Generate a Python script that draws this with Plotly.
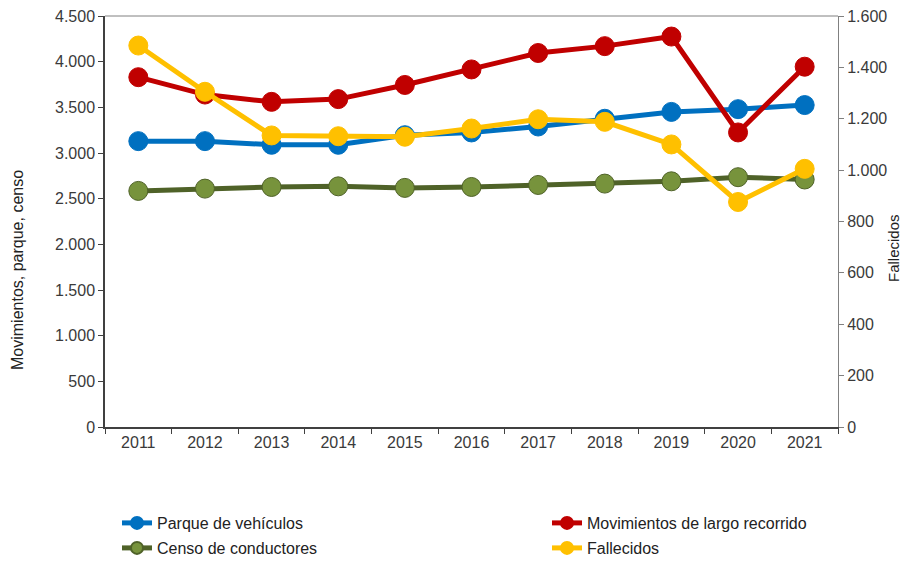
import plotly.graph_objects as go

years = ["2011", "2012", "2013", "2014", "2015", "2016", "2017", "2018", "2019", "2020", "2021"]
parque = [3130, 3130, 3090, 3090, 3195, 3225, 3290, 3375, 3450, 3480, 3525]
movimientos = [3830, 3640, 3560, 3590, 3745, 3915, 4095, 4170, 4275, 3225, 3945]
censo = [2585, 2610, 2628, 2635, 2618, 2628, 2650, 2665, 2690, 2735, 2710]
fallecidos = [1485, 1305, 1135, 1132, 1130, 1162, 1198, 1188, 1100, 876, 1005]

left_ticks = [0, 500, 1000, 1500, 2000, 2500, 3000, 3500, 4000, 4500]
left_labels = ["0", "500", "1.000", "1.500", "2.000", "2.500", "3.000", "3.500", "4.000", "4.500"]
right_ticks = [0, 200, 400, 600, 800, 1000, 1200, 1400, 1600]
right_labels = ["0", "200", "400", "600", "800", "1.000", "1.200", "1.400", "1.600"]

FONT = "Liberation Sans, Arial, sans-serif"
TXT = "#3a3a3a"
W, H = 902, 563
L, R, T, B = 105, 838, 16, 427
PW, PH = R - L, B - T

fig = go.Figure()

def add(name, y, line_c, mark_c, legend, yaxis="y"):
    fig.add_trace(go.Scatter(
        x=years, y=y, name=name, mode="lines+markers", yaxis=yaxis, legend=legend,
        line=dict(color=line_c, width=5),
        marker=dict(color=mark_c, size=19, line=dict(color=line_c, width=1)),
    ))

add("Parque de vehículos", parque, "#0070C0", "#0070C0", "legend")
add("Movimientos de largo recorrido", movimientos, "#C00000", "#C00000", "legend2")
add("Censo de conductores", censo, "#4F6228", "#77933C", "legend3")
add("Fallecidos", fallecidos, "#FFC000", "#FFC000", "legend4", yaxis="y2")

def leg(text_x, y):
    return dict(orientation="h", xanchor="left", yanchor="middle",
                x=(text_x - 40 - L) / PW, y=(B - y) / PH,
                font=dict(family=FONT, size=16, color="#222"),
                bgcolor="rgba(0,0,0,0)", itemsizing="constant")

fig.update_layout(
    width=W, height=H,
    margin=dict(l=L, r=W - R, t=T, b=H - B, autoexpand=False),
    paper_bgcolor="white", plot_bgcolor="white",
    font=dict(family=FONT, size=16, color=TXT),
    showlegend=True,
    legend=leg(157, 523),
    legend2=leg(587, 523),
    legend3=leg(157, 548),
    legend4=leg(587, 548),
    xaxis=dict(
        type="category", range=[-0.5, 10.5], tickson="boundaries",
        ticks="outside", ticklen=5, tickcolor="#404040",
        showline=True, linecolor="#404040", linewidth=1.5, mirror=False,
        showgrid=False, tickfont=dict(family=FONT, size=16, color=TXT),
    ),
    yaxis=dict(
        range=[0, 4500], tickvals=left_ticks, ticktext=left_labels,
        ticks="outside", ticklen=5, tickcolor="#404040",
        showline=True, linecolor="#404040", linewidth=1.5,
        showgrid=False, zeroline=False, tickfont=dict(family=FONT, size=16, color=TXT),
    ),
    yaxis2=dict(
        range=[0, 1600], tickvals=right_ticks, ticktext=right_labels,
        overlaying="y", side="right",
        ticks="outside", ticklen=5, tickcolor="#808080",
        showline=True, linecolor="#808080", linewidth=1,
        showgrid=False, zeroline=False, tickfont=dict(family=FONT, size=16, color=TXT),
    ),
    shapes=[dict(type="line", xref="paper", yref="paper", x0=0, x1=1, y0=1, y1=1,
                 line=dict(color="#808080", width=1))],
    annotations=[
        dict(text="Movimientos, parque, censo", xref="paper", yref="paper",
             x=(17 - L) / PW, y=(B - 270) / PH, textangle=-90, showarrow=False,
             xanchor="center", yanchor="middle", font=dict(family=FONT, size=16, color="#222")),
        dict(text="Fallecidos", xref="paper", yref="paper",
             x=(893 - L) / PW, y=(B - 248) / PH, textangle=-90, showarrow=False,
             xanchor="center", yanchor="middle", font=dict(family=FONT, size=15, color="#222")),
    ],
)

fig.write_html("out.html", config={"displayModeBar": False},
               post_script="document.body.style.margin='0';")
